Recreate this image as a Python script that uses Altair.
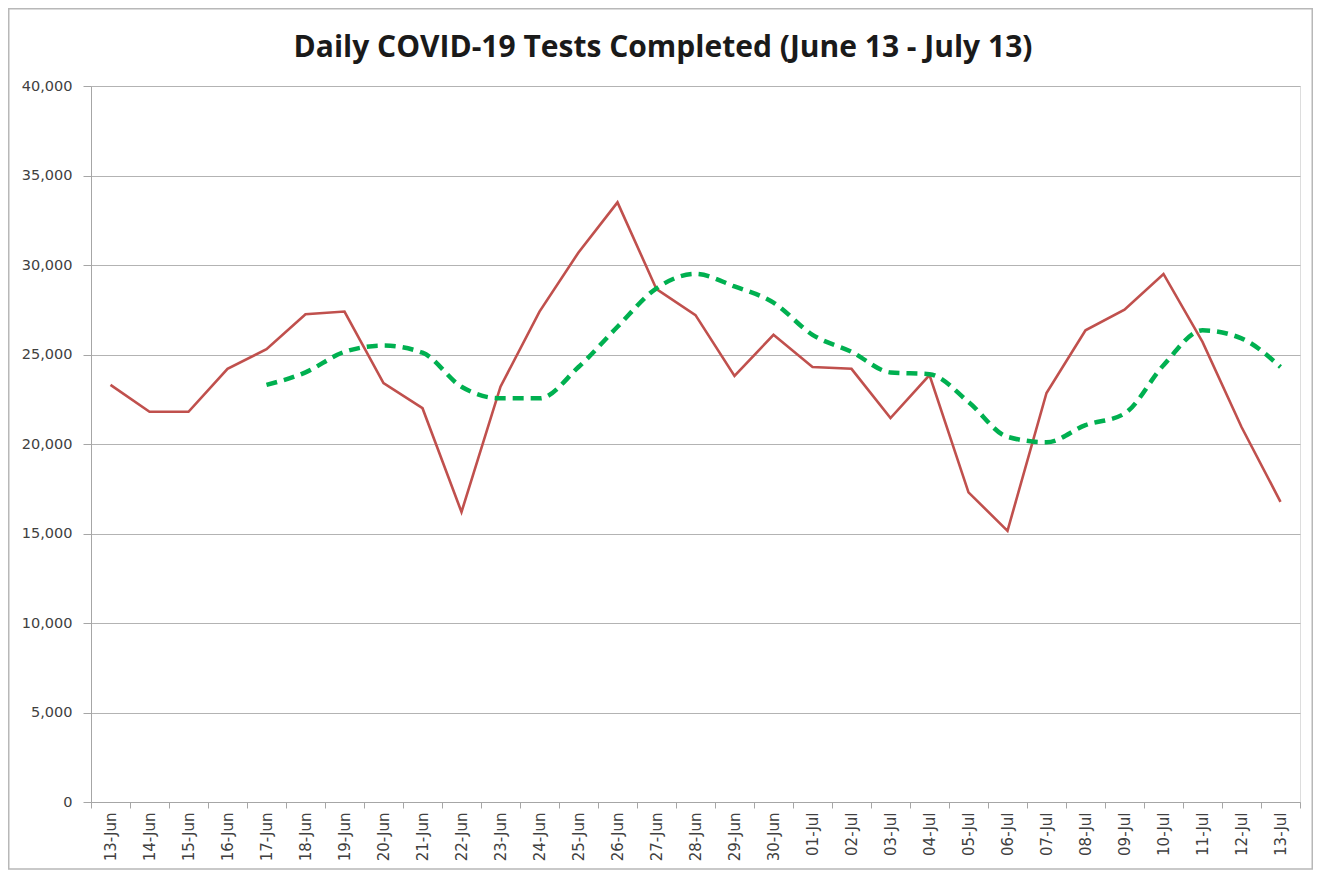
import altair as alt
import pandas as pd

dates = ["13-Jun", "14-Jun", "15-Jun", "16-Jun", "17-Jun", "18-Jun", "19-Jun", "20-Jun",
         "21-Jun", "22-Jun", "23-Jun", "24-Jun", "25-Jun", "26-Jun", "27-Jun", "28-Jun",
         "29-Jun", "30-Jun", "01-Jul", "02-Jul", "03-Jul", "04-Jul", "05-Jul", "06-Jul",
         "07-Jul", "08-Jul", "09-Jul", "10-Jul", "11-Jul", "12-Jul", "13-Jul"]

daily_tests = [23300, 21800, 21800, 24200, 25300, 27250, 27400, 23400,
               22000, 16200, 23200, 27400, 30700, 33500, 28650, 27200,
               23800, 26100, 24300, 24200, 21450, 23850, 17300, 15150,
               22850, 26350, 27500, 29500, 25700, 20950, 16770]

rolling_avg = [None, None, None, None, 23300, 24000, 25150, 25500,
               25100, 23200, 22550, 22550, 24300, 26550, 28700, 29500,
               28800, 27900, 26100, 25150, 24000, 23900, 22350, 20400,
               20100, 21050, 21700, 24400, 26350, 25900, 24300]

y_ticks = [0, 5000, 10000, 15000, 20000, 25000, 30000, 35000, 40000]

title_text = "Daily COVID-19 Tests Completed (June 13 - July 13)"

daily_df = pd.DataFrame({"date": dates, "value": daily_tests})
avg_df = pd.DataFrame({"date": dates, "value": rolling_avg}).dropna()

W, H = 1209, 716
PAD = {"left": 83, "top": 78, "right": 13, "bottom": 69}

x_enc = alt.X(
    "date:O",
    sort=dates,
    scale=alt.Scale(type="band", domain=dates, paddingInner=0, paddingOuter=0),
    bandPosition=0.5,
    axis=alt.Axis(
        title=None,
        labelAngle=-90,
        tickBand="extent",
        grid=False,
        domainColor="#a6a6a6",
        tickColor="#a6a6a6",
        tickSize=6,
        labelPadding=4,
        labelFont="DejaVu Sans",
        labelFontSize=15,
        labelColor="#404040",
    ),
)

y_enc = alt.Y(
    "value:Q",
    scale=alt.Scale(domain=[0, 40000], nice=False, zero=True),
    axis=alt.Axis(
        title=None,
        values=y_ticks,
        format=",.0f",
        grid=True,
        gridColor="#b3b3b3",
        gridWidth=1.2,
        domainColor="#a6a6a6",
        tickColor="#a6a6a6",
        tickSize=8,
        labelPadding=11,
        labelFont="DejaVu Sans",
        labelFontSize=14.5,
        labelColor="#404040",
    ),
)

deco_df = pd.DataFrame({"label": [title_text]})

frame = alt.Chart(deco_df).mark_rect(
    fill="transparent", stroke="#b8b8b8", strokeWidth=1.5, clip=False
).encode(
    x=alt.value(-PAD["left"] + 0.75),
    x2=alt.value(W + PAD["right"] - 0.75),
    y=alt.value(-PAD["top"] + 0.75),
    y2=alt.value(H + PAD["bottom"] - 2),
)

title_mark = alt.Chart(deco_df).mark_text(
    font="Open Sans",
    fontSize=30,
    fontWeight="bold",
    color="#1a1a1a",
    align="center",
    baseline="alphabetic",
    clip=False,
).encode(
    text="label:N",
    x=alt.value(572),
    y=alt.value(-29),
)

red_line = alt.Chart(daily_df).mark_line(color="#c0504d", strokeWidth=2.6).encode(
    x=x_enc, y=y_enc
)

green_line = alt.Chart(avg_df).mark_line(
    color="#00b050", strokeWidth=4.5, strokeDash=[11, 7], interpolate="monotone"
).encode(x=x_enc, y=y_enc)

chart = (
    alt.layer(red_line, green_line, frame, title_mark)
    .properties(
        width=W,
        height=H,
        autosize=alt.AutoSizeParams(type="none"),
        padding=PAD,
    )
    .configure_view(stroke=None)
    .configure(background="white")
)

chart.save("out.html", embed_options={"renderer": "svg", "actions": False})
